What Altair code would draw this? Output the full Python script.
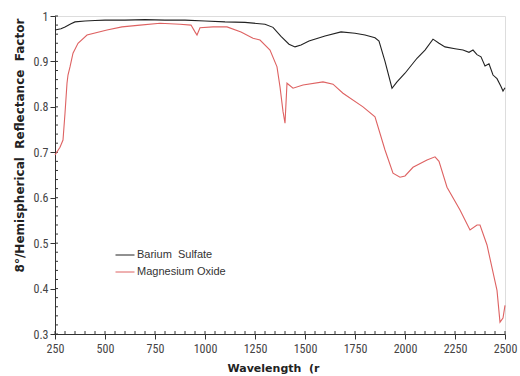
import altair as alt
import pandas as pd

ba_wl = [250, 280, 300, 330, 350, 400, 450, 500, 600, 700, 800, 900, 1000, 1100, 1200, 1300, 1340, 1380, 1420, 1450, 1480, 1520, 1600, 1680, 1750, 1800, 1850, 1870, 1900, 1935, 1960, 2000, 2060, 2100, 2140, 2170, 2200, 2250, 2290, 2320, 2340, 2360, 2380, 2400, 2420, 2440, 2460, 2480, 2490, 2500]
ba_r = [0.969, 0.972, 0.976, 0.983, 0.987, 0.989, 0.990, 0.991, 0.991, 0.992, 0.991, 0.991, 0.989, 0.987, 0.986, 0.982, 0.975, 0.955, 0.938, 0.932, 0.936, 0.945, 0.956, 0.965, 0.962, 0.958, 0.952, 0.945, 0.900, 0.841, 0.855, 0.874, 0.907, 0.925, 0.949, 0.940, 0.932, 0.928, 0.925, 0.920, 0.925, 0.915, 0.910, 0.890, 0.895, 0.870, 0.862, 0.845, 0.835, 0.842]

mg_wl = [250, 275, 290, 300, 310, 315, 325, 340, 365, 410, 510, 585, 675, 775, 875, 930, 950, 960, 975, 1040, 1110, 1180, 1240, 1275, 1325, 1360, 1375, 1390, 1400, 1410, 1440, 1490, 1590, 1640, 1690, 1790, 1850, 1900, 1940, 1975, 2000, 2040, 2110, 2150, 2170, 2210, 2275, 2325, 2360, 2375, 2410, 2460, 2475, 2490, 2500]
mg_r = [0.694, 0.711, 0.727, 0.786, 0.852, 0.870, 0.888, 0.918, 0.940, 0.958, 0.969, 0.976, 0.980, 0.984, 0.982, 0.980, 0.965, 0.958, 0.974, 0.976, 0.976, 0.965, 0.951, 0.947, 0.925, 0.888, 0.844, 0.790, 0.764, 0.852, 0.841, 0.848, 0.855, 0.850, 0.830, 0.800, 0.778, 0.705, 0.654, 0.645, 0.648, 0.667, 0.683, 0.690, 0.680, 0.623, 0.573, 0.529, 0.540, 0.540, 0.496, 0.396, 0.326, 0.335, 0.363]

series_names = ["Barium\u00a0\u00a0Sulfate", "Magnesium Oxide"]
series_colors = ["#222222", "#de6262"]

x_major = [250, 500, 750, 1000, 1250, 1500, 1750, 2000, 2250, 2500]
x_minor = list(range(250, 2501, 50))
y_major = [0.3, 0.4, 0.5, 0.6, 0.7, 0.8, 0.9, 1.0]
y_minor = [round(0.3 + 0.02 * i, 2) for i in range(36)]

df = pd.concat([
    pd.DataFrame({"wl": ba_wl, "r": ba_r, "s": series_names[0]}),
    pd.DataFrame({"wl": mg_wl, "r": mg_r, "s": series_names[1]}),
])

W, H = 450, 318
LFONT = "Liberation Sans Narrow, Roboto Condensed, Liberation Sans"
TFONT = "DejaVu Sans"
SP = "\u00a0\u00a0"

xs = alt.Scale(domain=[250, 2500], nice=False, zero=False)
ys = alt.Scale(domain=[0.3, 1.0], nice=False, zero=False)

lines = alt.Chart(df).mark_line(strokeWidth=1.1).encode(
    x=alt.X("wl:Q", scale=xs, axis=alt.Axis(
        values=x_major, format="d", title="Wavelength" + SP + "(r", grid=False, tickSize=5,
        labelPadding=4, labelFontSize=12, labelColor="#444", labelFont=LFONT,
        titleFont=TFONT, titleFontSize=11, titleFontWeight="bold", titleColor="#222",
        titleX=218, titleY=34, titleAlign="center", titleBaseline="middle",
        domainColor="#333", tickColor="#333", labelFlush=False)),
    y=alt.Y("r:Q", scale=ys, axis=alt.Axis(
        values=y_major, title="8°/Hemispherical" + SP + "Reflectance" + SP + "Factor", grid=False,
        tickSize=5, labelPadding=2, labelFontSize=12, labelColor="#444", labelFont=LFONT,
        labelExpr="datum.value == 1 ? '1' : format(datum.value, '.1f')",
        titleFont=TFONT, titleFontSize=12, titleFontWeight="bold", titleColor="#222",
        titleAngle=270, titleX=-36, titleY=129, titleAlign="center", titleBaseline="middle",
        domainColor="#333", tickColor="#333", labelFlush=False)),
    color=alt.Color("s:N", scale=alt.Scale(domain=series_names, range=series_colors),
                    legend=alt.Legend(title=None, orient="none", legendX=60, legendY=229,
                                      symbolType="stroke", symbolSize=361, symbolStrokeWidth=1,
                                      labelFontSize=11, labelFont="Liberation Sans", labelColor="#333",
                                      rowPadding=2, labelOffset=2)),
)

xt = alt.Chart(pd.DataFrame({"v": x_minor})).mark_rule(color="#333", strokeWidth=1).encode(
    x=alt.X("v:Q", scale=xs), y=alt.value(H), y2=alt.value(H - 3))
yt = alt.Chart(pd.DataFrame({"v": y_minor})).mark_rule(color="#333", strokeWidth=1).encode(
    y=alt.Y("v:Q", scale=ys), x=alt.value(0), x2=alt.value(3))

chart = alt.layer(xt, yt, lines).properties(
    width=W, height=H,
    autosize=alt.AutoSizeParams(type="none"),
    padding={"left": 55, "top": 16, "right": 15, "bottom": 42},
).configure_view(stroke="#777", strokeWidth=1).configure(background="white")

chart.save("out.html", embed_options={"renderer": "svg", "actions": False})
